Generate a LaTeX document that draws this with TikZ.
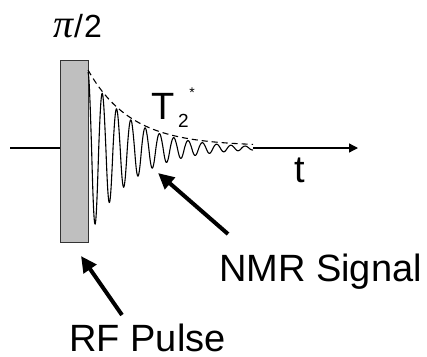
\documentclass[tikz,border=0pt]{standalone}
\usepackage{fontspec}
\setmainfont{Liberation Sans}
\newfontfamily\pifont{Liberation Serif}
\usetikzlibrary{arrows.meta}
\begin{document}
\begin{tikzpicture}[x=1pt,y=-1pt,
  pulsebox/.style={draw=black!80,line width=1pt,fill=black!25,minimum width=28pt,minimum height=182pt,inner sep=0pt},
  lbl/.style={inner sep=0pt,anchor=base,font=\fontsize{38}{38}\selectfont},
  pilbl/.style={inner sep=0pt,anchor=base,font=\fontsize{32}{32}\selectfont},
  sublbl/.style={inner sep=0pt,anchor=base,font=\fontsize{19}{19}\selectfont},
  axisline/.style={line width=1.3pt},
  sigline/.style={line width=1.1pt},
  envline/.style={line width=1.1pt,dash pattern=on 6pt off 4pt},
  bigarrow/.style={line width=4pt,-{Triangle[length=16pt,width=15pt]}},
]
\useasboundingbox (0,0) rectangle (427,356);
% pulse
\node[pulsebox] (pulse) at (74,151) {};
% axis
\coordinate (axstart) at (10,148);
\coordinate (sigend) at (253,148);
\coordinate (axend) at (358,148);
\draw[axisline] (axstart) -- (axstart -| pulse.west);
\draw[axisline,-{Triangle[length=9pt,width=9pt]}] (sigend) -- (axend);
% signal
\draw[sigline] plot[domain=88:253,samples=700] (\x,{148-76*exp(-(\x-88)/43)*cos(((\x-88)/14.3)*360)*(1+0.18*(cos(((\x-88)/14.3)*360)<0))});
% envelope
\draw[envline] plot[domain=88:253,samples=60] (\x,{146-76*exp(-(\x-88)/43)});
% labels
\node[pilbl] (pilab) at (77.5,37.5) {{\pifont\itshape\fontsize{40}{40}\selectfont π}\kern1pt/\kern1pt2};
\node[lbl] (tlab) at (163,119) {T};
\node[sublbl] (tsub) at (183.5,127.5) {2};
\node[inner sep=0pt,font=\fontsize{14}{14}\selectfont] (tstar) at (192,93) {*};
\node[lbl] (timelab) at (300,182) {t};
\node[lbl] (nmr) at (320.5,281) {NMR Signal};
\node[lbl] (rf) at (147.5,351) {RF Pulse};
% arrows
\coordinate (nmrtail) at (228,234);
\coordinate (nmrhead) at (158,173);
\coordinate (rftail) at (122,315);
\coordinate (rfhead) at (81,256);
\draw[bigarrow] (nmrtail) -- (nmrhead);
\draw[bigarrow] (rftail) -- (rfhead);
\end{tikzpicture}
\end{document}
